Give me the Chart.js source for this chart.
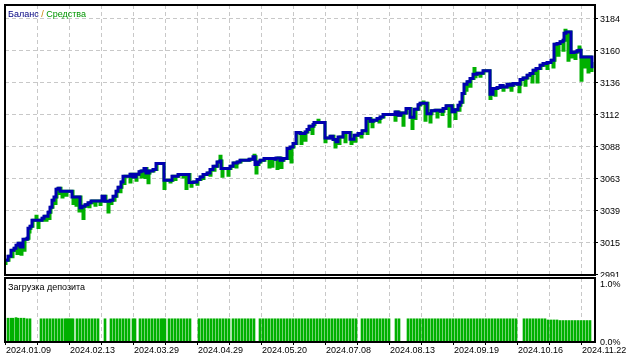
<!DOCTYPE html>
<html><head><meta charset="utf-8">
<script src="https://cdn.jsdelivr.net/npm/chart.js@4/dist/chart.umd.min.js"></script>
<style>
html,body{margin:0;padding:0;background:#fff;width:640px;height:360px;overflow:hidden}
#c1{position:absolute;left:0;top:0}
#c2{position:absolute;left:0;top:276px}
</style></head><body>
<canvas id="c1" width="640" height="277"></canvas>
<canvas id="c2" width="640" height="84"></canvas>
<script>
// ---- data (x = deal number) ----
const balanceX = [0,3,6,9,11,13,15,18,22,23,25,27,37,39,43,45,47,49,51,53,55,67,75,77,80,83,86,97,100,105,108,111,113,116,118,125,128,131,134,136,139,141,144,148,151,159,167,173,184,188,192,195,198,202,205,208,212,215,216,225,228,232,235,244,248,250,253,255,259,270,271,275,278,282,285,288,291,295,300,302,304,308,309,320,325,328,331,333,338,345,349,353,357,361,365,368,372,375,378,390,393,396,401,405,409,413,415,422,426,430,435,438,441,447,450,453,455,457,459,462,465,468,472,478,485,488,492,495,498,502,505,508,512,515,518,522,525,528,531,535,538,542,546,549,552,555,558,559,561,566,569,572,574,576,587];
const balanceY = [3001.8,3004.8,3009.3,3010.8,3013.1,3014.6,3011.8,3017.6,3018.4,3025.9,3027.4,3031.9,3033.4,3035.0,3038.0,3041.7,3047.0,3049.5,3055.3,3056.1,3053.8,3049.5,3041.4,3042.5,3043.6,3045.1,3046.5,3050.0,3046.3,3047.0,3050.0,3053.8,3056.8,3060.8,3065.1,3066.6,3064.6,3066.6,3068.4,3069.1,3070.9,3067.6,3069.1,3070.2,3074.7,3062.1,3065.1,3066.4,3060.4,3060.8,3062.6,3064.6,3066.4,3067.6,3070.2,3072.6,3075.9,3076.6,3070.9,3072.6,3075.1,3075.9,3077.2,3077.9,3079.7,3073.9,3075.9,3077.2,3078.5,3077.9,3078.9,3077.2,3078.5,3086.0,3087.2,3089.8,3098.1,3097.3,3098.5,3100.3,3102.8,3104.1,3105.6,3094.0,3095.3,3092.8,3091.0,3094.7,3098.1,3093.0,3096.0,3097.3,3099.3,3108.6,3106.6,3107.3,3108.6,3109.8,3111.6,3113.6,3111.1,3112.8,3116.1,3109.6,3115.6,3119.0,3120.1,3112.2,3114.5,3114.9,3114.1,3116.1,3118.3,3113.7,3115.2,3118.6,3120.9,3127.5,3134.5,3136.4,3138.8,3142.0,3142.8,3144.6,3126.9,3131.2,3132.0,3133.5,3132.4,3134.5,3133.7,3135.0,3134.5,3138.0,3139.2,3141.3,3142.5,3145.0,3146.3,3148.8,3150.1,3150.8,3152.6,3164.6,3165.2,3166.4,3167.6,3172.9,3173.9,3158.4,3158.8,3159.6,3160.1,3155.0,3146.5];
const equityPoints = [[0,2999.3],[1,3001.8],[4,3004.8],[7,3004.3],[8,3009.3],[10,3010.8],[12,3006.8],[13,3013.1],[14,3014.6],[16,3006.3],[17,3011.8],[19,3009.3],[20,3017.6],[23,3018.4],[24,3023.1],[25,3025.9],[26,3027.4],[28,3031.9],[31,3035.0],[32,3031.9],[33,3026.4],[34,3031.9],[38,3033.4],[40,3035.0],[41,3031.9],[42,3035.0],[44,3033.2],[45,3038.0],[46,3041.7],[48,3047.0],[50,3044.5],[51,3049.5],[52,3055.3],[53,3052.1],[54,3056.1],[56,3053.8],[57,3049.5],[58,3053.8],[61,3050.8],[62,3053.8],[68,3044.5],[69,3049.5],[71,3043.2],[72,3049.5],[74,3038.9],[75,3049.5],[76,3041.4],[78,3033.2],[79,3042.5],[81,3043.6],[84,3042.0],[85,3045.1],[87,3046.5],[90,3043.2],[91,3046.5],[95,3043.8],[96,3046.5],[98,3050.0],[101,3046.3],[103,3038.2],[104,3046.3],[106,3044.5],[107,3047.0],[109,3047.0],[110,3050.0],[112,3053.8],[114,3056.8],[115,3053.3],[116,3056.8],[117,3060.8],[119,3059.6],[120,3065.1],[125,3060.8],[126,3066.6],[129,3064.6],[131,3062.1],[132,3066.6],[135,3068.4],[136,3064.6],[137,3069.1],[140,3064.1],[141,3070.9],[142,3067.6],[143,3060.1],[144,3067.6],[145,3069.1],[149,3070.2],[152,3074.7],[159,3055.8],[160,3062.1],[165,3060.8],[166,3062.1],[168,3065.1],[170,3062.6],[171,3065.1],[174,3066.4],[178,3064.6],[179,3066.4],[181,3055.8],[182,3066.4],[185,3060.4],[186,3057.6],[187,3060.4],[189,3060.8],[192,3059.0],[193,3062.6],[196,3064.6],[198,3063.4],[199,3066.4],[203,3067.6],[205,3065.9],[206,3070.2],[209,3069.6],[210,3072.6],[213,3075.9],[215,3080.2],[216,3076.6],[217,3065.1],[218,3070.9],[223,3065.9],[224,3070.9],[226,3072.6],[229,3075.1],[231,3072.1],[232,3075.1],[233,3075.9],[236,3077.2],[245,3077.9],[249,3080.9],[250,3079.7],[251,3067.6],[252,3073.9],[254,3075.9],[256,3077.2],[260,3078.5],[264,3072.1],[265,3078.5],[267,3072.6],[268,3078.5],[271,3077.9],[272,3070.9],[273,3078.9],[276,3071.7],[277,3077.2],[279,3078.5],[283,3086.0],[286,3075.9],[287,3087.2],[289,3089.8],[292,3098.1],[296,3089.8],[297,3097.3],[300,3092.2],[301,3098.5],[303,3100.3],[305,3102.8],[307,3097.3],[308,3102.8],[309,3104.1],[310,3105.6],[313,3107.3],[314,3105.6],[320,3091.0],[321,3094.0],[326,3095.3],[329,3092.8],[330,3087.2],[331,3092.8],[332,3091.0],[334,3089.8],[335,3094.7],[339,3098.1],[340,3091.0],[341,3098.1],[346,3089.8],[347,3093.0],[350,3091.5],[351,3096.0],[354,3097.3],[356,3094.7],[357,3097.3],[358,3099.3],[362,3097.3],[363,3108.6],[366,3106.6],[367,3102.3],[368,3106.6],[369,3107.3],[373,3108.6],[374,3106.0],[375,3108.6],[376,3109.8],[379,3111.6],[390,3107.3],[391,3113.6],[394,3111.1],[397,3112.8],[398,3103.6],[399,3112.8],[402,3116.1],[406,3109.6],[407,3101.1],[408,3109.6],[410,3108.6],[411,3115.6],[414,3119.0],[416,3120.1],[418,3121.1],[419,3120.1],[420,3107.3],[421,3120.1],[423,3112.2],[425,3106.0],[426,3112.2],[427,3114.5],[431,3114.9],[432,3109.8],[433,3114.9],[436,3114.1],[437,3111.6],[438,3114.1],[439,3116.1],[442,3118.3],[444,3102.8],[445,3118.3],[448,3113.7],[450,3108.6],[451,3115.2],[454,3114.9],[455,3118.6],[456,3120.9],[458,3127.5],[460,3134.5],[461,3129.9],[462,3134.5],[463,3136.4],[465,3133.0],[466,3138.8],[469,3146.3],[470,3140.0],[471,3142.0],[473,3142.8],[475,3140.5],[476,3142.8],[479,3144.6],[485,3123.7],[486,3126.9],[489,3131.2],[490,3126.2],[491,3131.2],[493,3132.0],[496,3133.5],[498,3129.9],[499,3132.4],[503,3134.5],[506,3129.9],[507,3133.7],[509,3135.0],[513,3134.5],[514,3128.7],[515,3134.5],[516,3138.0],[519,3139.2],[520,3133.7],[521,3139.2],[523,3141.3],[526,3142.5],[527,3136.2],[528,3142.5],[529,3145.0],[532,3136.2],[533,3146.3],[536,3148.8],[539,3150.1],[542,3146.3],[543,3150.8],[547,3152.6],[548,3147.5],[549,3152.6],[550,3164.6],[553,3156.3],[554,3165.2],[556,3166.4],[558,3160.1],[559,3167.6],[560,3175.2],[561,3172.9],[562,3173.9],[563,3152.6],[564,3173.9],[566,3155.0],[567,3158.4],[570,3153.8],[571,3158.8],[573,3159.6],[574,3162.6],[575,3160.1],[576,3137.5],[577,3155.0],[579,3147.5],[580,3155.0],[581,3152.6],[582,3155.0],[583,3143.7],[584,3155.0],[586,3150.1],[587,3143.7]];
const loadBars = [[3,0.41],[6,0.41],[8,0.41],[11,0.42],[13,0.41],[16,0.41],[19,0.41],[22,0.40],[25,0.40],
[36,0.40],[39,0.40],[42,0.40],[45,0.40],[48,0.40],[51,0.40],[54,0.40],[57,0.40],[60,0.40],
[62,0.40],[64,0.40],[66,0.40],[68,0.40],
[72,0.40],[75,0.40],[78,0.40],[81,0.40],[84,0.40],[87,0.40],[90,0.40],[93,0.40],
[100,0.40],
[106,0.40],[109,0.40],[112,0.40],[115,0.40],[118,0.40],[121,0.40],[124,0.40],
[128,0.40],[130,0.40],
[135,0.40],[138,0.40],[141,0.40],[144,0.40],[147,0.40],[150,0.40],[153,0.40],[156,0.40],
[158,0.40],[160,0.40],
[164,0.40],[167,0.40],[170,0.40],[173,0.40],[176,0.40],[179,0.40],[182,0.40],[185,0.40],
[194,0.40],[197,0.40],[200,0.40],[203,0.40],[206,0.40],[209,0.40],[212,0.40],[215,0.40],[218,0.40],[221,0.40],[224,0.40],
[228,0.40],[231,0.40],[234,0.40],[237,0.40],[240,0.40],[243,0.40],[246,0.40],[249,0.40],
[255,0.40],[258,0.40],[261,0.40],[264,0.40],[267,0.40],[270,0.40],[273,0.40],[276,0.40],[279,0.40],[282,0.40],[285,0.40],[288,0.40],[291,0.40],[294,0.40],[297,0.40],[300,0.40],[303,0.40],[306,0.40],[309,0.40],[312,0.40],[315,0.40],
[318,0.40],[321,0.40],[324,0.40],[327,0.40],[330,0.40],[333,0.40],[336,0.40],[339,0.40],[342,0.40],[345,0.40],[348,0.40],[351,0.40],
[357,0.40],[360,0.40],[363,0.40],[366,0.40],[369,0.40],[372,0.40],[375,0.40],[378,0.40],[381,0.40],[384,0.40],
[391,0.40],[394,0.40],
[403,0.40],[406,0.40],[409,0.40],[412,0.40],[415,0.40],[418,0.40],[421,0.40],[424,0.40],[427,0.40],[430,0.40],[433,0.40],[436,0.40],[439,0.40],[442,0.40],[445,0.40],[448,0.40],
[451,0.40],[454,0.40],[457,0.40],[460,0.40],[463,0.40],[466,0.40],[469,0.40],[472,0.40],[475,0.40],[478,0.40],[481,0.40],[484,0.40],[487,0.40],[490,0.40],[493,0.40],[496,0.40],[499,0.40],[502,0.40],[505,0.40],[508,0.40],[511,0.40],
[519,0.40],[522,0.40],[525,0.40],[528,0.40],[531,0.40],[534,0.40],[537,0.40],[540,0.40],[543,0.38],[546,0.38],[549,0.38],[552,0.38],
[555,0.37],[558,0.37],[561,0.37],[564,0.37],[567,0.37],[570,0.37],[573,0.37],[576,0.37],[579,0.37],[582,0.37],[585,0.37]];
const dateLabels = ['2024.01.09','2024.02.13','2024.03.29','2024.04.29','2024.05.20','2024.07.08','2024.08.13','2024.09.19','2024.10.16','2024.11.22'];
const balanceTickLabels = ['2991','3015','3039','3063','3088','3112','3136','3160','3184'];
const loadTickLabels = ['0.0%','1.0%'];
const loadTickValues = [0, 1];

// ---- styling / layout ----
const FONT = {family:'"Liberation Sans", Arial, sans-serif', size:9};
const GRID = '#c8c8c8';
const DASH = [4,3];
const X_MAX = 590;
const xGrid = []; for (let v = 0; v <= 576; v += 32) xGrid.push(v);
const yLow = Number(balanceTickLabels[0]), yHigh = Number(balanceTickLabels[balanceTickLabels.length-1]);
const yStep = (yHigh - yLow) / (balanceTickLabels.length - 1);
const Y_MIN = yLow - 0.5 * yStep / 32, Y_MAX = yHigh + 13.5 * yStep / 32;

function noPad(s) { s.paddingTop = 0; s.paddingBottom = 0; s.paddingLeft = 0; s.paddingRight = 0; }

const frame = {
  id: 'frame',
  afterDraw(chart) {
    const {ctx, chartArea: a} = chart;
    ctx.save(); ctx.strokeStyle = '#000'; ctx.lineWidth = 2;
    ctx.strokeRect(a.left, a.top, a.right - a.left, a.bottom - a.top);
    ctx.restore();
  }
};
function textPlugin(id, parts, x, y) {
  return { id, afterDraw(chart) {
    const ctx = chart.ctx; ctx.save();
    ctx.font = '9px "Liberation Sans", Arial, sans-serif'; ctx.textBaseline = 'alphabetic';
    let cx = x;
    for (const [t, c] of parts) { ctx.fillStyle = c; ctx.fillText(t, cx, y); cx += ctx.measureText(t).width; }
    ctx.restore();
  }};
}

new Chart(document.getElementById('c1'), {
  type: 'line',
  data: { datasets: [
    { label: 'Баланс', data: balanceX.map((x, i) => ({x, y: balanceY[i]})),
      borderColor: '#0000b0', borderWidth: 3, pointRadius: 0, stepped: true, fill: false },
    { label: 'Средства', data: equityPoints.map(p => ({x: p[0], y: p[1]})),
      borderColor: '#00b000', borderWidth: 3, pointRadius: 0, stepped: true, fill: false }
  ]},
  options: {
    responsive: false, animation: false, events: [],
    layout: { padding: {left: 5, top: 5, right: 0, bottom: 2} },
    plugins: { legend: {display: false}, tooltip: {enabled: false} },
    scales: {
      x: { type: 'linear', min: 0, max: X_MAX, bounds: 'data', offset: false,
        afterBuildTicks: s => { s.ticks = xGrid.map(v => ({value: v})); },
        afterFit: s => { s.height = 0; noPad(s); },
        ticks: { display: false },
        grid: { color: GRID, lineWidth: 1, drawTicks: false, offset: false },
        border: { display: false, dash: DASH } },
      y: { type: 'linear', position: 'right', min: Y_MIN, max: Y_MAX, bounds: 'data',
        afterBuildTicks: s => { s.ticks = balanceTickLabels.map((_, i) => ({value: yLow + i * yStep})); },
        afterFit: s => { s.width = 45; noPad(s); },
        ticks: { callback: (v, i) => balanceTickLabels[i], font: FONT, color: '#000', padding: 2, autoSkip: false, labelOffset: 1 },
        grid: { color: GRID, lineWidth: 1, drawTicks: true, tickLength: 3, tickColor: '#000' },
        border: { display: false, dash: DASH } }
    }
  },
  plugins: [frame, textPlugin('ttl1', [['Баланс', '#000080'], [' / ', '#c88200'], ['Средства', '#009600']], 8, 17)]
});

new Chart(document.getElementById('c2'), {
  type: 'bar',
  data: { datasets: [
    { label: 'Загрузка депозита', data: loadBars.map(p => ({x: p[0], y: p[1]})),
      backgroundColor: '#00b000', borderWidth: 0, barThickness: 2 }
  ]},
  options: {
    responsive: false, animation: false, events: [],
    layout: { padding: {left: 5, top: 2, right: 0, bottom: 0} },
    plugins: { legend: {display: false}, tooltip: {enabled: false} },
    scales: {
      x: { type: 'linear', min: 0, max: X_MAX, bounds: 'data', offset: false,
        afterBuildTicks: s => { s.ticks = xGrid.map(v => ({value: v})); },
        afterFit: s => { s.height = 18; noPad(s); },
        ticks: { callback: (v, i) => (i % 2 === 0 ? dateLabels[i / 2] : ''), align: 'start', font: FONT, color: '#000',
                 padding: 0, autoSkip: false, maxRotation: 0, minRotation: 0, labelOffset: 1 },
        grid: { color: GRID, lineWidth: 1, drawTicks: true, tickLength: 3, tickColor: '#000', offset: false },
        border: { display: false, dash: DASH } },
      y: { type: 'linear', position: 'right', min: 0, max: 1.103, bounds: 'data',
        afterBuildTicks: s => { s.ticks = loadTickValues.map(v => ({value: v})); },
        afterFit: s => { s.width = 45; noPad(s); },
        ticks: { callback: (v, i) => loadTickLabels[i], font: FONT, color: '#000', padding: 5, autoSkip: false, labelOffset: 1 },
        grid: { drawOnChartArea: false, drawTicks: false },
        border: { display: false } }
    }
  },
  plugins: [frame, textPlugin('ttl2', [['Загрузка депозита', '#000']], 8, 14)]
});
</script>
</body></html>
